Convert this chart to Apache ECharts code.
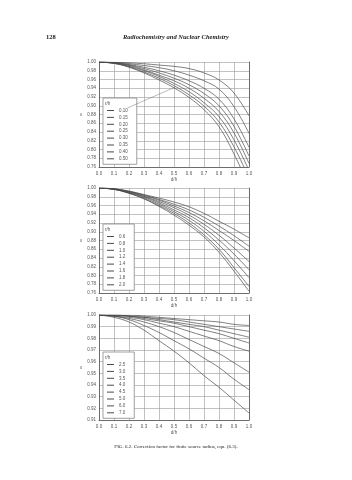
<!DOCTYPE html>
<html>
<head>
<meta charset="utf-8">
<script src="https://cdn.jsdelivr.net/npm/echarts@6/dist/echarts.min.js"></script>
<style>
html, body { margin: 0; padding: 0; background: #fff; }
#chart { width: 352px; height: 480px; }
</style>
</head>
<body>
<div id="chart"></div>
<script>
const dh = [0, 0.1, 0.2, 0.3, 0.4, 0.5, 0.6, 0.7, 0.8, 0.9, 1.0]

// panel 1
const names1 = ['0.10', '0.15', '0.20', '0.25', '0.30', '0.35', '0.40', '0.50']
const curves1 = [
    [1, 0.9995, 0.998, 0.996, 0.993, 0.990, 0.985, 0.975, 0.959, 0.929, 0.877],
    [1, 0.999, 0.996, 0.992, 0.987, 0.980, 0.970, 0.957, 0.938, 0.898, 0.837],
    [1, 0.998, 0.994, 0.988, 0.980, 0.970, 0.957, 0.940, 0.915, 0.870, 0.805],
    [1, 0.998, 0.993, 0.985, 0.975, 0.963, 0.948, 0.928, 0.900, 0.853, 0.785],
    [1, 0.998, 0.992, 0.982, 0.970, 0.957, 0.940, 0.917, 0.887, 0.838, 0.768],
    [1, 0.997, 0.990, 0.980, 0.967, 0.951, 0.932, 0.907, 0.875, 0.822, 0.752],
    [1, 0.997, 0.989, 0.977, 0.963, 0.946, 0.925, 0.899, 0.863, 0.806, 0.735],
    [1, 0.997, 0.988, 0.975, 0.959, 0.941, 0.919, 0.891, 0.852, 0.790, 0.715]
]
// leader line from the legend to a curve
const pointer1 = [[0.19, 0.895], [0.51, 0.943]]

// panel 2
const names2 = ['0.6', '0.8', '1.0', '1.2', '1.4', '1.6', '1.8', '2.0']
const curves2 = [
    [1, 0.997, 0.988, 0.975, 0.958, 0.938, 0.915, 0.888, 0.853, 0.810, 0.764],
    [1, 0.997, 0.988, 0.976, 0.960, 0.942, 0.920, 0.893, 0.860, 0.818, 0.775],
    [1, 0.997, 0.989, 0.978, 0.963, 0.946, 0.926, 0.901, 0.870, 0.834, 0.795],
    [1, 0.997, 0.990, 0.980, 0.966, 0.950, 0.932, 0.909, 0.881, 0.849, 0.813],
    [1, 0.998, 0.991, 0.981, 0.969, 0.955, 0.938, 0.917, 0.892, 0.863, 0.832],
    [1, 0.998, 0.992, 0.983, 0.972, 0.959, 0.944, 0.925, 0.903, 0.880, 0.855],
    [1, 0.998, 0.992, 0.984, 0.974, 0.963, 0.950, 0.933, 0.913, 0.891, 0.867],
    [1, 0.998, 0.993, 0.985, 0.977, 0.968, 0.957, 0.942, 0.924, 0.906, 0.886]
]

// panel 3
const names3 = ['2.5', '3.0', '3.5', '4.0', '4.5', '5.0', '6.0', '7.0']
const curves3 = [
    [1, 0.998, 0.994, 0.987, 0.978, 0.969, 0.959, 0.948, 0.938, 0.927, 0.916],
    [1, 0.999, 0.996, 0.991, 0.985, 0.978, 0.971, 0.963, 0.955, 0.945, 0.936],
    [1, 0.999, 0.997, 0.994, 0.990, 0.985, 0.979, 0.973, 0.967, 0.959, 0.951],
    [1, 0.999, 0.998, 0.996, 0.993, 0.990, 0.986, 0.982, 0.978, 0.973, 0.969],
    [1, 1.000, 0.999, 0.997, 0.995, 0.993, 0.990, 0.987, 0.984, 0.980, 0.976],
    [1, 1.000, 0.999, 0.998, 0.996, 0.994, 0.992, 0.990, 0.987, 0.984, 0.981],
    [1, 1.000, 0.999, 0.998, 0.997, 0.996, 0.994, 0.992, 0.990, 0.988, 0.986],
    [1, 1.000, 1.000, 0.999, 0.998, 0.997, 0.996, 0.995, 0.994, 0.992, 0.991]
]

const panels = [
    { names: names1, curves: curves1, yMin: 0.76, yMax: 1.0, yStep: 0.02, top: 62, legendTop: 98 },
    { names: names2, curves: curves2, yMin: 0.76, yMax: 1.0, yStep: 0.02, top: 188, legendTop: 224 },
    { names: names3, curves: curves3, yMin: 0.91, yMax: 1.0, yStep: 0.01, top: 315, legendTop: 352 }
]

const labelFont = { fontFamily: 'Liberation Sans, Arial, sans-serif', fontSize: 4.5, color: '#555' }
const curveColor = '#4a4a4a'

let myChart = echarts.init(document.getElementById('chart'))

let grids = [], xAxes = [], yAxes = [], series = [], legends = [], titles = []

panels.forEach((p, i) => {
    grids.push({ left: 99, width: 150, top: p.top, height: 105 })
    xAxes.push({
        gridIndex: i, type: 'value', min: 0, max: 1, interval: 0.1,
        name: 'd/h', nameLocation: 'middle', nameGap: 10,
        nameTextStyle: labelFont,
        axisLine: { show: true, lineStyle: { color: '#555', width: 0.8 } },
        axisTick: { show: false },
        axisLabel: Object.assign({ margin: 4, formatter: v => v.toFixed(1) }, labelFont),
        splitLine: { show: true, lineStyle: { color: '#999', width: 0.6 } }
    })
    yAxes.push({
        gridIndex: i, type: 'value', min: p.yMin, max: p.yMax, interval: p.yStep,
        name: 'ε', nameLocation: 'middle', nameGap: 15, nameRotate: 0,
        nameTextStyle: labelFont,
        axisLine: { show: true, lineStyle: { color: '#555', width: 0.8 } },
        axisTick: { show: false },
        axisLabel: Object.assign({ margin: 3, formatter: v => v.toFixed(2) }, labelFont),
        splitLine: { show: true, lineStyle: { color: '#999', width: 0.6 } }
    })
    // right / top border of the plot
    yAxes.push({
        gridIndex: i, type: 'value', min: p.yMin, max: p.yMax, position: 'right',
        axisLine: { show: true, lineStyle: { color: '#555', width: 0.8 } },
        axisTick: { show: false }, axisLabel: { show: false }, splitLine: { show: false }
    })
    p.names.forEach((n, k) => {
        let s = {
            name: n, type: 'line', xAxisIndex: i, yAxisIndex: i * 2,
            data: dh.map((x, j) => [x, p.curves[k][j]]),
            smooth: 0.4, showSymbol: false, clip: true,
            lineStyle: { color: curveColor, width: 0.7 },
            itemStyle: { color: curveColor },
            silent: true
        }
        if (i === 0 && k === 0) {
            s.markLine = {
                silent: true, symbol: 'none', label: { show: false },
                lineStyle: { color: '#777', width: 0.5, type: 'solid' },
                data: [[{ coord: pointer1[0] }, { coord: pointer1[1] }]]
            }
        }
        series.push(s)
    })
    legends.push({
        data: p.names, orient: 'vertical', left: 103, top: p.legendTop,
        itemWidth: 7, itemHeight: 1, itemGap: 1.9, icon: 'rect',
        padding: [10, 9, 3, 4],
        backgroundColor: '#fff', borderColor: '#888', borderWidth: 0.8,
        selectedMode: false, z: 2,
        textStyle: Object.assign({ lineHeight: 5, padding: [0, 0, 0, 0] }, labelFont)
    })
    titles.push({
        text: 'r/h', left: 105, top: p.legendTop + 3, z: 10, padding: 0,
        textStyle: Object.assign({ fontWeight: 'normal' }, labelFont)
    })
})

titles.push({
    text: '128', left: 46, top: 34, padding: 0,
    textStyle: { fontFamily: 'Liberation Serif, serif', fontSize: 6.5, fontWeight: 'bold', color: '#222' }
})
titles.push({
    text: 'Radiochemistry and Nuclear Chemistry', left: 'center', top: 34, padding: 0,
    textStyle: { fontFamily: 'Liberation Serif, serif', fontSize: 6.5, fontWeight: 'bold', fontStyle: 'italic', color: '#222' }
})
titles.push({
    text: 'FIG. 6.2. Correction factor for finite source radius, eqn. (6.3).', left: 'center', top: 444, padding: 0,
    textStyle: { fontFamily: 'Liberation Serif, serif', fontSize: 5, fontWeight: 'normal', color: '#222' }
})

let option = {
    animation: false,
    backgroundColor: '#fff',
    title: titles,
    grid: grids,
    xAxis: xAxes,
    yAxis: yAxes,
    legend: legends,
    series: series
}
myChart.setOption(option)
</script>
</body>
</html>
